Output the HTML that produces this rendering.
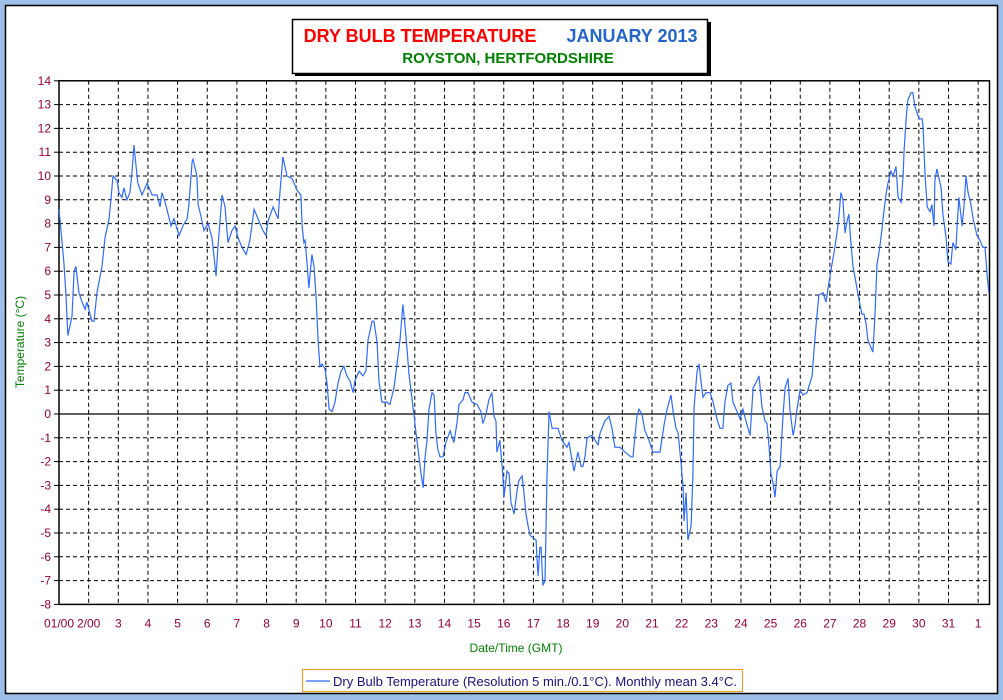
<!DOCTYPE html>
<html><head><meta charset="utf-8"><style>
html,body{margin:0;padding:0;background:#9dbfe8;}
svg{display:block;font-family:"Liberation Sans",sans-serif;}
</style></head><body>
<svg id="chart" width="1003" height="700">
<rect x="0" y="0" width="1003" height="700" fill="#9dbfe8"/>
<rect x="5.5" y="5.5" width="992" height="688" fill="#fff" stroke="#000" stroke-width="1.5"/>
<g>
<rect x="295" y="22" width="416" height="54" fill="#000"/>
<rect x="292.5" y="19.5" width="415" height="54" fill="#fff" stroke="#000" stroke-width="1.5"/>
<text x="420" y="42" text-anchor="middle" font-size="18" font-weight="bold" fill="#ff0000">DRY BULB TEMPERATURE</text>
<text x="632" y="42" text-anchor="middle" font-size="18" font-weight="bold" fill="#2266cc">JANUARY 2013</text>
<text x="508" y="63" text-anchor="middle" font-size="15" font-weight="bold" fill="#008000">ROYSTON, HERTFORDSHIRE</text>
</g>
<g id="grid"></g>
<g id="axes"></g>
<path id="series" fill="none" stroke="#2f6bff" stroke-width="1.2"/>
<text x="516" y="652" text-anchor="middle" font-size="12" fill="#008000">Date/Time (GMT)</text>
<text transform="translate(24,342) rotate(-90)" text-anchor="middle" font-size="12" fill="#008000">Temperature (°C)</text>
<g>
<rect x="302.5" y="669.5" width="440" height="22" fill="#fff" stroke="#f0a030" stroke-width="1.2"/>
<line x1="306" y1="681" x2="330" y2="681" stroke="#2f6bff" stroke-width="1.2"/>
<text x="333" y="686" font-size="13" fill="#1a1080">Dry Bulb Temperature (Resolution 5 min./0.1°C). Monthly mean 3.4°C.</text>
</g>
</svg>
<script>
const yTicks=[-8,-7,-6,-5,-4,-3,-2,-1,0,1,2,3,4,5,6,7,8,9,10,11,12,13,14];
const xTickLabels=["01/00","2/00","3","4","5","6","7","8","9","10","11","12","13","14","15","16","17","18","19","20","21","22","23","24","25","26","27","28","29","30","31","1"];
const times=[0,0.03,0.17,0.24,0.3,0.44,0.51,0.57,0.67,0.78,0.88,0.94,1.11,1.18,1.28,1.45,1.55,1.69,1.75,1.82,1.96,2.02,2.12,2.19,2.29,2.39,2.46,2.53,2.6,2.66,2.8,2.97,3.14,3.31,3.41,3.47,3.58,3.68,3.78,3.88,4.05,4.18,4.32,4.38,4.49,4.52,4.65,4.69,4.79,4.89,5.03,5.16,5.3,5.36,5.5,5.6,5.7,5.83,5.94,6.04,6.17,6.31,6.44,6.58,6.71,6.88,6.98,7.05,7.22,7.39,7.45,7.55,7.69,7.86,8.03,8.16,8.2,8.26,8.3,8.36,8.43,8.53,8.6,8.67,8.74,8.8,8.87,8.97,9.04,9.11,9.21,9.31,9.41,9.51,9.61,9.71,9.81,9.92,9.98,10.12,10.25,10.35,10.42,10.56,10.62,10.73,10.79,10.89,11.06,11.16,11.3,11.4,11.5,11.6,11.67,11.74,11.8,11.91,11.97,12.04,12.11,12.21,12.28,12.34,12.41,12.48,12.58,12.65,12.71,12.78,12.85,12.95,13.05,13.19,13.32,13.42,13.49,13.63,13.69,13.79,13.93,14.1,14.23,14.3,14.4,14.5,14.6,14.67,14.74,14.77,14.87,14.97,15.01,15.11,15.18,15.24,15.35,15.45,15.51,15.62,15.68,15.75,15.82,15.89,15.99,16.09,16.12,16.16,16.22,16.26,16.32,16.39,16.46,16.53,16.63,16.83,16.96,17.13,17.2,17.3,17.37,17.5,17.61,17.67,17.74,17.81,17.98,18.08,18.18,18.25,18.41,18.55,18.65,18.75,18.92,19.09,19.29,19.36,19.49,19.56,19.66,19.76,19.87,20.03,20.27,20.4,20.51,20.64,20.71,20.81,20.88,20.98,21.05,21.08,21.15,21.21,21.32,21.38,21.42,21.52,21.59,21.65,21.72,21.82,21.96,22.06,22.19,22.29,22.39,22.46,22.56,22.66,22.73,22.87,22.97,23.07,23.17,23.31,23.41,23.54,23.61,23.71,23.81,23.88,23.95,24.01,24.08,24.15,24.22,24.32,24.42,24.49,24.59,24.65,24.76,24.82,24.89,24.99,25.09,25.23,25.4,25.46,25.53,25.63,25.77,25.87,25.94,26.07,26.14,26.24,26.31,26.37,26.44,26.51,26.58,26.64,26.68,26.78,26.91,26.98,27.08,27.15,27.22,27.28,27.35,27.45,27.52,27.59,27.66,27.76,27.79,27.89,27.96,28.06,28.13,28.23,28.3,28.4,28.47,28.5,28.57,28.63,28.74,28.8,28.87,29.01,29.11,29.14,29.21,29.28,29.38,29.44,29.51,29.54,29.61,29.75,29.81,29.92,29.98,30.08,30.15,30.25,30.29,30.35,30.46,30.52,30.59,30.66,30.76,30.83,30.96,31.06,31.16,31.23,31.3,31.36];
const temps=[8.6,8.2,6.3,4.9,3.3,4.1,6.0,6.2,5.1,4.7,4.4,4.7,3.9,3.9,5.1,6.2,7.4,8.2,9.0,10.0,9.8,9.3,9.1,9.5,9.0,9.3,10.1,11.3,10.4,9.7,9.2,9.7,9.2,9.2,8.7,9.3,8.9,8.4,7.9,8.2,7.5,7.9,8.2,8.8,10.6,10.7,10.0,8.8,8.3,7.7,8.0,7.4,5.8,7.0,9.2,8.7,7.2,7.7,7.9,7.4,7.0,6.7,7.3,8.6,8.2,7.7,7.5,8.1,8.7,8.2,9.3,10.8,10.0,9.9,9.4,9.2,7.9,7.2,7.3,6.4,5.3,6.7,6.2,4.9,3.1,2.0,2.1,1.9,1.3,0.2,0.1,0.5,1.3,1.8,2.0,1.6,1.4,0.9,1.4,1.8,1.6,1.8,3.1,3.9,3.9,3.0,1.4,0.5,0.5,0.4,1.1,2.1,3.1,4.6,3.7,2.7,1.7,0.6,0,-0.8,-1.5,-2.5,-3.1,-1.9,-1.1,0.2,0.9,0.8,-0.8,-1.5,-1.8,-1.8,-1.2,-0.7,-1.2,-0.4,0.4,0.6,0.9,0.9,0.5,0.4,0.1,-0.4,0.0,0.6,0.9,-0.1,-0.3,-1.6,-1.1,-2.6,-3.5,-2.4,-2.5,-3.7,-4.2,-3.2,-2.8,-2.6,-3.3,-4.2,-4.7,-5.1,-5.2,-5.3,-6.1,-6.8,-5.6,-5.6,-7.2,-7.0,-2.6,0.1,-0.6,-0.6,-1.1,-1.4,-1.2,-1.9,-2.4,-1.6,-2.2,-2.2,-1.8,-1.0,-0.9,-1.1,-1.3,-0.8,-0.3,-0.1,-0.6,-1.4,-1.4,-1.6,-1.8,-1.8,-0.1,0.2,0,-0.7,-1.0,-1.6,-1.6,-0.5,0.2,0.8,0.1,-0.6,-0.8,-2.1,-3.1,-4.5,-3.3,-5.3,-4.7,-2.6,0.3,1.8,2.1,1.4,0.7,0.9,0.9,0.5,-0.2,-0.6,-0.6,0.5,1.2,1.3,0.5,0.1,-0.2,0.2,-0.3,-0.9,1.1,1.4,1.6,0.3,-0.3,-0.4,-1.4,-2.5,-2.9,-3.5,-2.4,-2.2,0.0,1.1,1.5,0.2,-0.9,-0.5,0.2,1.0,0.8,0.9,1.6,2.6,3.7,5.0,5.1,4.7,5.3,6.3,6.8,7.6,8.4,9.3,9.0,7.6,8.1,8.4,7.6,6.2,5.3,4.8,4.2,4.2,3.8,3.1,2.9,2.6,4.2,6.3,6.8,7.8,8.2,9.2,9.7,10.2,10.0,10.4,9.1,8.9,10.0,11.0,12.4,13.2,13.5,13.5,12.9,12.4,12.4,12.1,10.0,8.7,8.5,8.8,7.9,9.8,10.3,9.5,8.4,7.4,6.4,6.3,7.2,6.9,7.9,9.1,7.9,8.7,10.0,9.3,8.8,8.2,7.5,7.3,7.0,7.0,5.9,5.1,4.8];

const X0=59,DAY=29.65,XR=989.5,Y0=414,UNIT=23.8;
const xs=d=>X0+d*DAY, ys=t=>Y0-t*UNIT;
const NS="http://www.w3.org/2000/svg";
const gridG=document.getElementById('grid'), axesG=document.getElementById('axes');
function mk(tag,attrs,parent){const e=document.createElementNS(NS,tag);for(const k in attrs)e.setAttribute(k,attrs[k]);parent.appendChild(e);return e;}
const yTop=ys(yTicks[yTicks.length-1]), yBot=ys(yTicks[0]);
yTicks.forEach(v=>{
  const y=ys(v);
  if(v!==0&&v!==yTicks[0]&&v!==yTicks[yTicks.length-1]){
    const l=mk('line',{x1:X0,x2:XR,y1:y,y2:y,stroke:'#000','stroke-dasharray':'4,3'},gridG);
    
    
  }
  const tk=mk('line',{x1:X0-5,x2:X0,y1:y,y2:y,stroke:'#000'},axesG);
  
  
  const t=mk('text',{x:X0-8,y:y+4,'text-anchor':'end','font-size':12,fill:'#990033'},axesG);
  t.textContent=v;
  
  
});
xTickLabels.forEach((lab,i)=>{
  const x=xs(i);
  if(i>0){
    const l=mk('line',{x1:x,x2:x,y1:yTop,y2:yBot,stroke:'#000','stroke-dasharray':'4,3'},gridG);
    
    
  }
  const t=mk('text',{x:x,y:yBot+23,'text-anchor':'middle','font-size':12,fill:'#990033'},axesG);
  t.textContent=lab;
  
  
});
const zl=mk('line',{x1:X0,x2:XR,y1:ys(0),y2:ys(0),stroke:'#000','stroke-width':1.3},axesG);


const frame=mk('rect',{x:X0,y:yTop,width:XR-X0,height:yBot-yTop,fill:'none',stroke:'#000','stroke-width':1.5},axesG);


const n=Math.min(times.length,temps.length);
let d='';
for(let i=0;i<n;i++){d+=(i?'L':'M')+xs(times[i]).toFixed(1)+','+ys(temps[i]).toFixed(1);}
document.getElementById('series').setAttribute('d',d);
</script>
</body></html>
